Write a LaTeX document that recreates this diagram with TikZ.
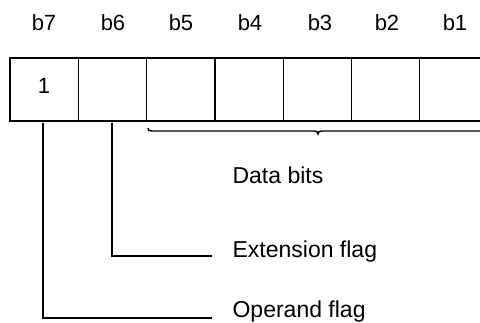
\documentclass[tikz,border=0pt]{standalone}
\usepackage{fontspec}
\setmainfont{Liberation Sans}
\begin{document}
\begin{tikzpicture}[x=1pt,y=-1pt,line width=1.2pt,
  cell/.style={draw,minimum width=68.3pt,minimum height=63pt,inner sep=0pt,outer sep=0pt,anchor=north west},
  lbl/.style={font=\fontsize{22}{26}\selectfont,inner sep=0pt,anchor=base},
  txt/.style={font=\fontsize{23}{27}\selectfont,inner sep=0pt,anchor=base west}]
\useasboundingbox (0,0) rectangle (480,323);
% cells
\node[cell] (c7) at (10,58) {};
\node[cell] (c6) at (c7.north east) {};
\node[cell] (c5) at (c6.north east) {};
\node[cell] (c4) at (c5.north east) {};
\node[cell] (c3) at (c4.north east) {};
\node[cell] (c2) at (c3.north east) {};
\node[cell] (c1) at (c2.north east) {};
\node[lbl] (one) at (44,94) {1};
% bit labels
\node[lbl] (l7) at (44,31) {b7};
\node[lbl] (l6) at (113,31) {b6};
\node[lbl] (l5) at (181,31) {b5};
\node[lbl] (l4) at (250,31) {b4};
\node[lbl] (l3) at (320,31) {b3};
\node[lbl] (l2) at (387,31) {b2};
\node[lbl] (l1) at (455,31) {b1};
% brace
\draw[line width=1.4pt] (148,128)
  .. controls (148,130.5) and (149,131) .. (152,131) -- (314,131)
  .. controls (317,131) and (318,132) .. (318,134)
  .. controls (318,132) and (319,131) .. (322,131) -- (490,131);
% texts
\node[txt] (data) at (232,184) {Data bits};
\node[txt] (ext) at (232,258) {Extension flag};
\node[txt] (op) at (232,318) {Operand flag};
\coordinate (extend) at (212,256);
\coordinate (opend) at (212,318);
\coordinate (extstart) at (112,123);
\coordinate (opstart) at (43,123);
\draw (extstart) |- (extend);
\draw (opstart) |- (opend);
\end{tikzpicture}
\end{document}
